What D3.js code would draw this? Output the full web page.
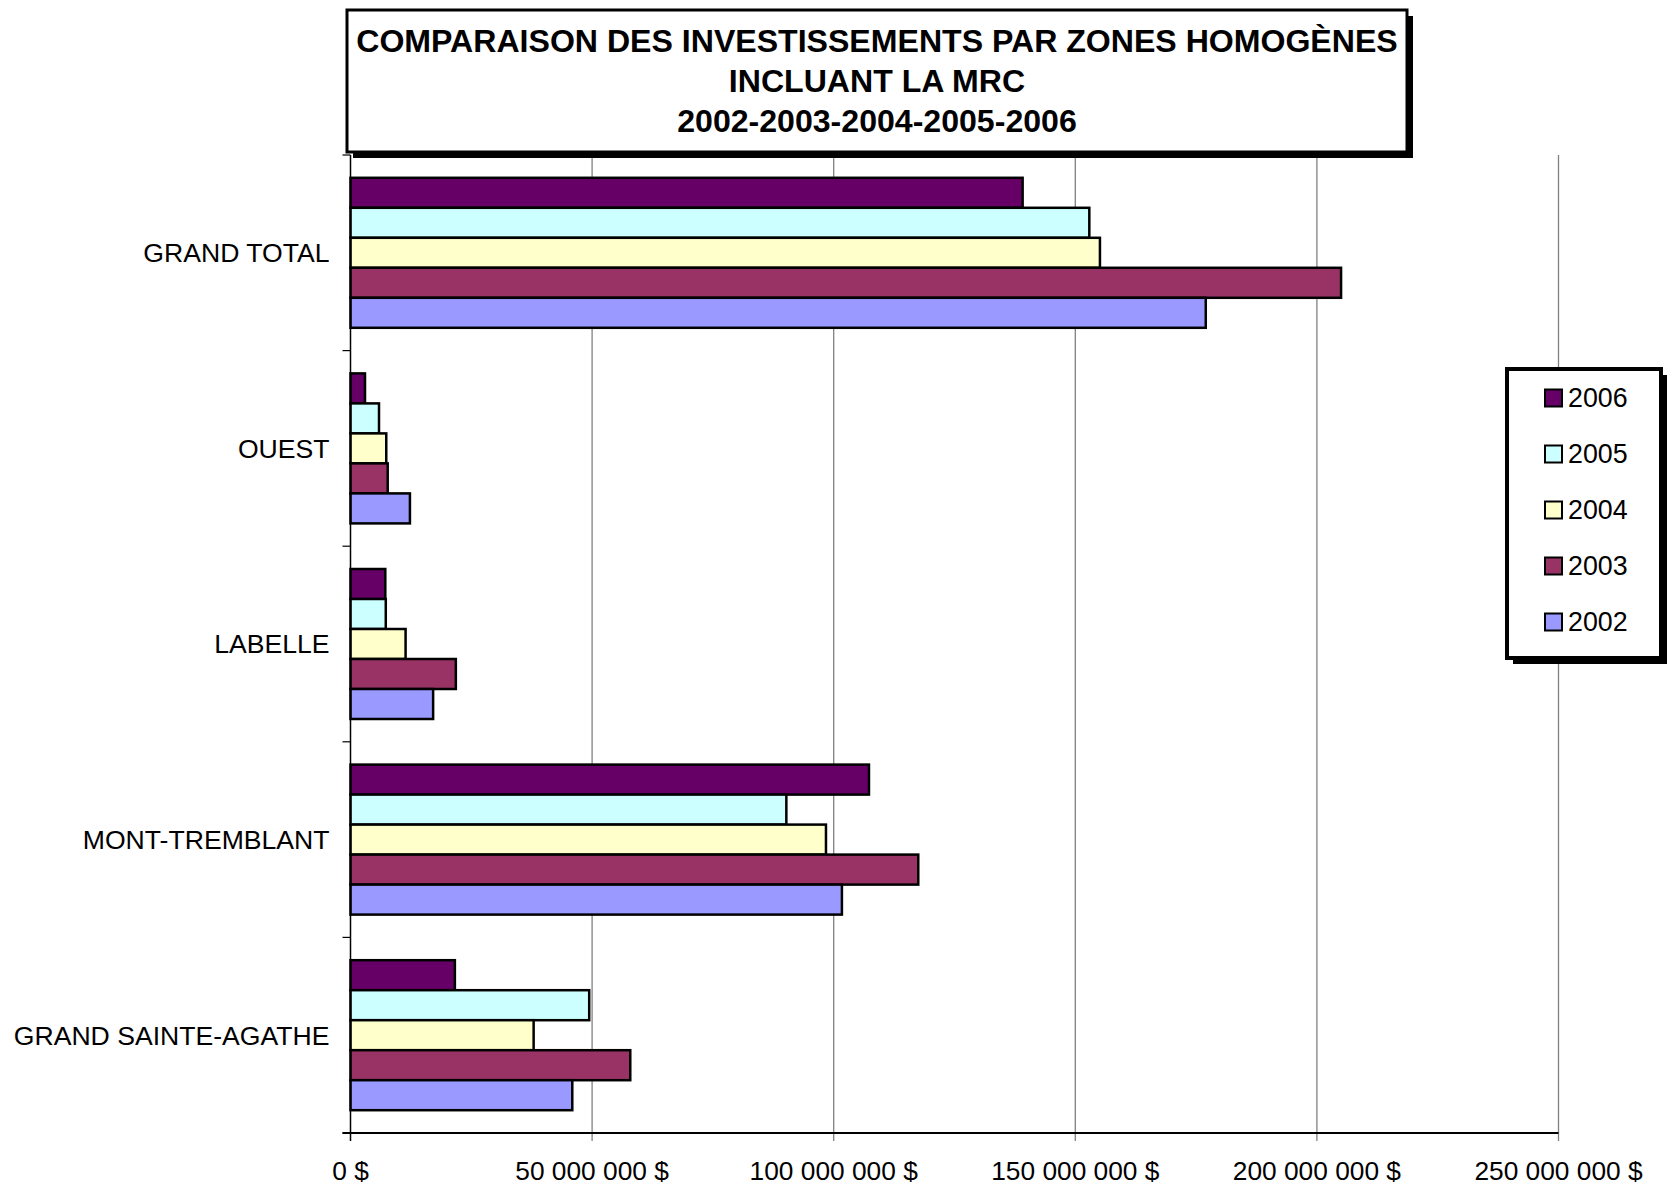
<!DOCTYPE html>
<html>
<head>
<meta charset="utf-8">
<script src="https://cdn.jsdelivr.net/npm/d3@7"></script>
<style>
  html, body { margin: 0; padding: 0; background: #fff; }
  svg { display: block; font-family: "Liberation Sans", Arial, sans-serif; }
</style>
</head>
<body>
<svg id="chart" width="1674" height="1187"></svg>
<script>
// ---- data ----
const categories = ["GRAND TOTAL", "OUEST", "LABELLE", "MONT-TREMBLANT", "GRAND SAINTE-AGATHE"];
const years = ["2006", "2005", "2004", "2003", "2002"];
const values2006 = [139.1e6, 3.0e6, 7.2e6, 107.3e6, 21.6e6];
const values2005 = [152.9e6, 5.9e6, 7.3e6, 90.2e6, 49.4e6];
const values2004 = [155.1e6, 7.4e6, 11.4e6, 98.4e6, 37.9e6];
const values2003 = [205.0e6, 7.7e6, 21.8e6, 117.5e6, 57.9e6];
const values2002 = [177.0e6, 12.3e6, 17.1e6, 101.7e6, 45.9e6];
const xTicks = [0, 50e6, 100e6, 150e6, 200e6, 250e6];
const titleLines = ["COMPARAISON DES INVESTISSEMENTS PAR ZONES HOMOGÈNES", "INCLUANT LA MRC", "2002-2003-2004-2005-2006"];
const colors = ["#660066", "#CCFFFF", "#FFFFCC", "#993366", "#9999FF"];

const seriesValues = [values2006, values2005, values2004, values2003, values2002];
const svg = d3.select("#chart");

// ---- layout ----
const plot = { left: 350.5, right: 1558.5, top: 155, bottom: 1133 };

const x = d3.scaleLinear().domain([0, 250e6]).range([plot.left, plot.right]);
const y = d3.scaleBand().domain(categories).range([plot.top, plot.bottom]).padding(0);
const yInner = d3.scaleBand().domain(years).range([0, y.bandwidth()]).paddingInner(0).paddingOuter(0.76);

// gridlines
svg.append("g").selectAll("line").data(xTicks.slice(1)).join("line")
  .attr("x1", d => x(d)).attr("x2", d => x(d))
  .attr("y1", plot.top).attr("y2", plot.bottom + 8)
  .attr("stroke", "#808080").attr("stroke-width", 1.3);

// bars
const rows = [];
categories.forEach((c, ci) => {
  years.forEach((yr, si) => rows.push({ cat: c, year: yr, value: seriesValues[si][ci], color: colors[si] }));
});
svg.append("g").selectAll("rect").data(rows).join("rect")
  .attr("x", x(0))
  .attr("y", d => y(d.cat) + yInner(d.year))
  .attr("width", d => x(d.value) - x(0))
  .attr("height", yInner.bandwidth())
  .attr("fill", d => d.color)
  .attr("stroke", "#000").attr("stroke-width", 2.5);

// y axis
svg.append("line").attr("x1", plot.left).attr("x2", plot.left)
  .attr("y1", plot.top).attr("y2", plot.bottom + 8)
  .attr("stroke", "#000").attr("stroke-width", 1.5);
const yBoundaries = categories.map(c => y(c)).concat([plot.bottom]);
svg.append("g").selectAll("line").data(yBoundaries).join("line")
  .attr("x1", plot.left - 8).attr("x2", plot.left)
  .attr("y1", d => d).attr("y2", d => d)
  .attr("stroke", "#000").attr("stroke-width", 1.2);
// x axis line
svg.append("line").attr("x1", plot.left - 8).attr("x2", plot.right)
  .attr("y1", plot.bottom).attr("y2", plot.bottom)
  .attr("stroke", "#000").attr("stroke-width", 2);

// category labels
svg.append("g").selectAll("text").data(categories).join("text")
  .attr("x", plot.left - 21)
  .attr("y", d => y(d) + y.bandwidth() / 2)
  .attr("dy", "0.35em")
  .attr("text-anchor", "end")
  .attr("font-size", 26.6)
  .attr("fill", "#000")
  .text(d => d);

// x tick labels
const fmt = v => d3.format(",")(v).replace(/,/g, " ") + " $";
svg.append("g").selectAll("text").data(xTicks).join("text")
  .attr("x", d => x(d))
  .attr("y", 1171)
  .attr("dy", "0.35em")
  .attr("text-anchor", "middle")
  .attr("font-size", 26.3)
  .attr("fill", "#000")
  .text(fmt);

// title box with shadow
const tb = { x: 347, y: 10, w: 1060, h: 142 };
svg.append("rect").attr("x", tb.x + 6).attr("y", tb.y + 6).attr("width", tb.w).attr("height", tb.h).attr("fill", "#000");
svg.append("rect").attr("x", tb.x).attr("y", tb.y).attr("width", tb.w).attr("height", tb.h)
  .attr("fill", "#fff").attr("stroke", "#000").attr("stroke-width", 3);
svg.append("g").selectAll("text").data(titleLines).join("text")
  .attr("x", tb.x + tb.w / 2)
  .attr("y", (d, i) => 41 + i * 40)
  .attr("dy", "0.35em")
  .attr("text-anchor", "middle")
  .attr("font-weight", "bold")
  .attr("font-size", 32.1)
  .attr("fill", "#000")
  .text(d => d);

// legend
const lg = { x: 1507, y: 369, w: 154, h: 289 };
svg.append("rect").attr("x", lg.x + 6).attr("y", lg.y + 6).attr("width", lg.w).attr("height", lg.h).attr("fill", "#000");
svg.append("rect").attr("x", lg.x).attr("y", lg.y).attr("width", lg.w).attr("height", lg.h)
  .attr("fill", "#fff").attr("stroke", "#000").attr("stroke-width", 4);
const legendY = d3.scalePoint().domain(years).range([398, 622]);
const li = svg.append("g").selectAll("g").data(years).join("g")
  .attr("transform", d => `translate(0,${legendY(d)})`);
li.append("rect").attr("x", 1545).attr("y", -8.5).attr("width", 17).attr("height", 17)
  .attr("fill", (d, i) => colors[i]).attr("stroke", "#000").attr("stroke-width", 2);
li.append("text").attr("x", 1568).attr("y", 0).attr("dy", "0.35em")
  .attr("font-size", 26.8).attr("fill", "#000").text(d => d);
</script>
</body>
</html>
